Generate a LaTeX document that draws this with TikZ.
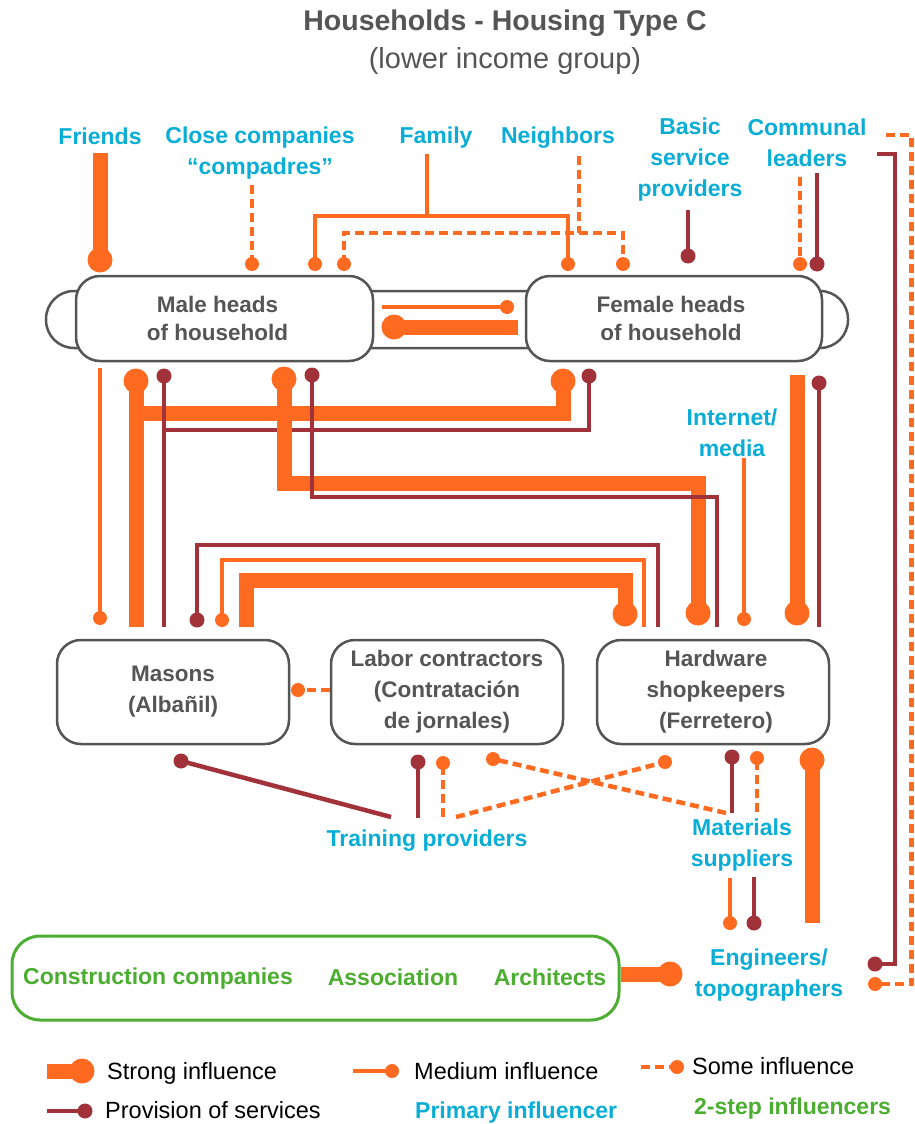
\documentclass[tikz,border=0pt]{standalone}
\usepackage{fontspec}
\setmainfont{Liberation Sans}
\definecolor{org}{HTML}{FF6A21}
\definecolor{brn}{HTML}{A2323A}
\definecolor{cyn}{HTML}{0AADD6}
\definecolor{grn}{HTML}{4CAE30}
\definecolor{gry}{HTML}{555555}
\newcommand\labfont{\fontsize{23}{31}\selectfont\bfseries}
\newcommand\boxfontA{\fontsize{22.5}{28}\selectfont\bfseries}
\newcommand\boxfontB{\fontsize{22.5}{31}\selectfont\bfseries}
\newcommand\legfont{\fontsize{23.5}{28}\selectfont}
\newcommand\dotS[1]{\fill[org] #1 circle (12.5pt);}
\newcommand\dotM[1]{\fill[org] #1 circle (7pt);}
\newcommand\dotB[1]{\fill[brn] #1 circle (7.5pt);}
\tikzset{
  lbl/.style={text=cyn, font=\labfont, align=center, inner sep=0pt},
  leg/.style={text=black, font=\legfont, inner sep=0pt},
  hbox/.style={draw=gry, line width=2.5pt, fill=white, rounded corners=24pt, text=gry, font=\boxfontA, align=center, inner sep=0pt},
  wbox/.style={hbox, font=\boxfontB, minimum width=232pt, minimum height=104pt},
  strong/.style={org, line width=15pt},
  medium/.style={org, line width=4pt},
  some/.style={org, line width=4.5pt, dash pattern=on 9pt off 5pt},
  prov/.style={brn, line width=4.5pt},
}
\begin{document}
\begin{tikzpicture}[x=1pt,y=-1pt]
\useasboundingbox (0,0) rectangle (914,1124);
% title
\node[text=gry, font=\fontsize{28.5}{34}\selectfont\bfseries, inner sep=0pt] (title) at (505,23) {Households - Housing Type C};
\node[text=gry, font=\fontsize{29}{34}\selectfont, inner sep=0pt] (subtitle) at (505,61) {(lower income group)};
% labels
\node[lbl] (friends) at (100,136) {Friends};
\node[lbl] (compadres) at (260,153) {Close companies\\“compadres”};
\node[lbl] (family) at (436,138) {Family};
\node[lbl] (neighbors) at (558,138) {Neighbors};
\node[lbl] (basic) at (690,160) {Basic\\service\\providers};
\node[lbl] (communal) at (807,142.5) {Communal\\leaders};
\node[lbl] (internet) at (732,433) {Internet/\\media};
\node[lbl] (training) at (427,841) {Training providers};
\node[lbl] (materials) at (742,845.5) {Materials\\suppliers};
\node[lbl] (engineers) at (769,975) {Engineers/\\topographers};
% household boxes
\node[draw=gry, line width=2.5pt, fill=white, rounded corners=28pt, minimum width=802pt, minimum height=57pt, inner sep=0pt] (band) at (447,319.5) {};
\node[hbox, minimum width=297pt, minimum height=85pt] (male) at (224.5,318.5) {\hspace*{-14pt}Male heads\\\hspace*{-14pt}of household};
\node[hbox, minimum width=296pt, minimum height=85pt] (female) at (674,318.5) {\hspace*{-6pt}Female heads\\\hspace*{-6pt}of household};
% middle boxes
\node[wbox] (masons) at (173,692) {Masons\\(Albañil)};
\node[wbox] (labor) at (447,692) {Labor contractors\\(Contratación\\de jornales)};
\node[wbox] (hardware) at (713,692) {\hspace*{6pt}Hardware\\\hspace*{6pt}shopkeepers\\\hspace*{6pt}(Ferretero)};
% construction box
\node[draw=grn, line width=3pt, rounded corners=28pt, minimum width=607pt, minimum height=84pt, inner sep=0pt] (cons) at (315.5,978) {};
\node[text=grn, font=\labfont, inner sep=0pt] (cc) at (158,979) {Construction companies};
\node[text=grn, font=\labfont, inner sep=0pt] (assoc) at (393,977) {Association};
\node[text=grn, font=\labfont, inner sep=0pt] (arch) at (550,977) {Architects};

% ---- top connectors
\draw[strong] (100,153) -- (100,260); \dotS{(100,260)}
\draw[some] (252,185) -- (252,264); \dotM{(252,264)}
\draw[medium] (427,154) -- (427,216);
\draw[medium] (315,264) -- (315,216) -- (568,216) -- (568,264);
\dotM{(315,264)} \dotM{(568,264)}
\draw[some] (579,156) -- (579,233);
\draw[some] (344,264) -- (344,233) -- (623,233) -- (623,264);
\dotM{(344,264)} \dotM{(623,264)}
\draw[prov] (688,210) -- (688,256); \dotB{(688,256)}
\draw[some] (800,177) -- (800,264); \dotM{(800,264)}
\draw[prov] (817,173) -- (817,264); \dotB{(817,264)}
% right side long connectors to engineers
\draw[prov] (877,154) -- (895,154) -- (895,964) -- (875,964); \dotB{(875,964)}
\draw[some] (886,135) -- (911.5,135) -- (911.5,984) -- (875,984); \dotM{(875,984)}
% between heads
\draw[medium] (382,307) -- (507,307); \dotM{(507,307)}
\draw[strong] (518,327) -- (394,327); \dotS{(394,327)}

% ---- heads to middle row
\draw[medium] (100,368) -- (100,618); \dotM{(100,618)}
\draw[strong] (136,627) -- (136,381);
\draw[strong] (136,413) -- (563,413) -- (563,381);
\dotS{(136,381)} \dotS{(563,381)}
\draw[prov] (164,627) -- (164,376);
\draw[prov] (164,430) -- (589,430) -- (589,376);
\dotB{(164,376)} \dotB{(589,376)}
\draw[strong] (284,379) -- (284,483) -- (698,483) -- (698,613);
\dotS{(284,379)} \dotS{(698,613)}
\draw[prov] (312,375) -- (312,497) -- (717,497) -- (717,627); \dotB{(312,375)}
\draw[strong] (797,375) -- (797,613); \dotS{(797,613)}
\draw[prov] (819,383) -- (819,627); \dotB{(819,383)}
\draw[medium] (744,458) -- (744,619); \dotM{(744,619)}
% masons <-> hardware loops
\draw[prov] (197,620) -- (197,545) -- (658,545) -- (658,627); \dotB{(197,620)}
\draw[medium] (222,620) -- (222,560) -- (644,560) -- (644,627); \dotM{(222,620)}
\draw[strong] (246,627) -- (246,580) -- (625,580) -- (625,614); \dotS{(625,614)}
% labor -> masons
\draw[some] (labor.west |- 0,690) -- (298,690); \dotM{(298,690)}

% ---- lower connectors
\draw[prov] (391,817) -- (181,761); \dotB{(181,761)}
\draw[prov] (418,818) -- (418,762); \dotB{(418,762)}
\draw[some] (443,817) -- (443,763); \dotM{(443,763)}
\draw[some] (456,817) -- (665,762); \dotM{(665,762)}
\draw[some] (726,813) -- (493,759); \dotM{(493,759)}
\draw[prov] (732,813) -- (732,757); \dotB{(732,757)}
\draw[some] (757,812) -- (757,758); \dotM{(757,758)}
\draw[strong] (812,923) -- (812,760); \dotS{(812,760)}
\draw[medium] (730,878) -- (730,923); \dotM{(730,923)}
\draw[prov] (754,877) -- (754,923); \dotB{(754,923)}
\draw[strong] (cons.east |- 0,974) -- (670,974); \dotS{(670,974)}

% ---- legend
\fill[org] (47,1063.5) rectangle (82,1078.5); \dotS{(82,1071)}
\node[leg, anchor=west] (lstrong) at (107,1073) {Strong influence};
\draw[medium] (353,1071) -- (392,1071); \dotM{(392,1071)}
\node[leg, anchor=west] (lmedium) at (414,1071) {Medium influence};
\draw[some] (641,1067) -- (677,1067); \dotM{(677,1067)}
\node[leg, anchor=west] (lsome) at (692,1066) {Some influence};
\draw[prov] (47,1111) -- (85,1111); \dotB{(85,1111)}
\node[leg, anchor=west] (lprov) at (105,1110) {Provision of services};
\node[lbl, anchor=west] (lprimary) at (415,1113) {Primary influencer};
\node[lbl, anchor=west, text=grn] (ltwo) at (694,1109) {2-step influencers};
\end{tikzpicture}
\end{document}
